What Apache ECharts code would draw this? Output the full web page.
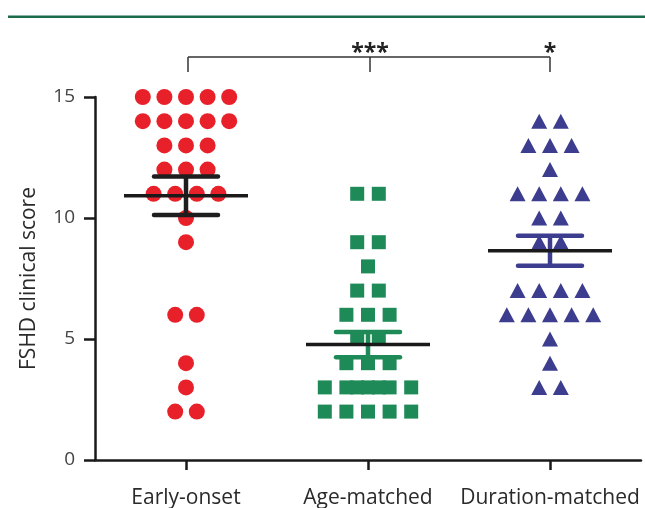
<!DOCTYPE html>
<html>
<head>
<meta charset="utf-8">
<script src="https://cdn.jsdelivr.net/npm/echarts@6/dist/echarts.min.js"></script>
<style>
html,body{margin:0;padding:0;background:#fff;}
#chart{width:645px;height:508px;}
</style>
</head>
<body>
<div id="chart"></div>
<script>
// ---- data ----
const categories = ['Early-onset', 'Age-matched', 'Duration-matched'];
const earlyOnset = [15,15,15,15,15, 14,14,14,14,14, 13,13,13, 12,12,12, 11,11,11,11, 10, 9, 6,6, 4, 3, 2,2];
const ageMatched = [11,11, 9,9, 8, 7,7, 6,6,6, 5,5, 4,4,4, 3,3,3,3,3,3,3, 2,2,2,2,2];
const durationMatched = [14,14, 13,13,13, 12, 11,11,11,11, 10,10, 9,9, 7,7,7,7, 6,6,6,6,6, 5, 4, 3,3];
const means = [10.92, 4.77, 8.65];
const sems = [0.80, 0.52, 0.62];
const yTicks = [0, 5, 10, 15];
const significance = ['***', '*'];

// ---- styling ----
const colors = ['#E8202A', '#1E8A57', '#3D3D8F'];
const capColors = ['#1e1e1e', '#1E8A57', '#3D3D8F'];
const symbols = ['circle', 'rect', 'triangle'];
const symbolSizes = [16, 14, [16, 15]];
const SPACING = 21.6;
const FONT = '"Open Sans", "Noto Sans", sans-serif';

// beeswarm-like layout: points with same value are spread horizontally
function layout(values, catIndex) {
  const rows = {};
  values.forEach(v => { (rows[v] = rows[v] || []).push(v); });
  const out = [];
  Object.keys(rows).forEach(k => {
    const n = rows[k].length;
    const std = Math.min(n, 5);
    const offs = [];
    for (let i = 0; i < std; i++) offs.push((i - (std - 1) / 2) * SPACING);
    const extra = n - std;
    for (let j = 0; j < extra; j++) {
      const side = j % 2 === 0 ? -1 : 1;
      const step = Math.floor(j / 2);
      offs.push(side * (SPACING / 2 + step * SPACING));
    }
    offs.forEach(o => out.push({ value: [catIndex, Number(k)], symbolOffset: [o, 0] }));
  });
  return out;
}

const groups = [earlyOnset, ageMatched, durationMatched];

const chart = echarts.init(document.getElementById('chart'), null, { renderer: 'canvas' });

const scatterSeries = groups.map((g, i) => ({
  type: 'scatter',
  name: categories[i],
  data: layout(g, i),
  symbol: symbols[i],
  symbolSize: symbolSizes[i],
  itemStyle: { color: colors[i], opacity: 1 },
  z: 2,
  silent: true,
  animation: false
}));

const meanSeries = {
  type: 'custom',
  z: 5,
  silent: true,
  animation: false,
  clip: false,
  data: means.map((m, i) => [i, m, sems[i]]),
  encode: { x: 0, y: 1 },
  renderItem: function (params, api) {
    const idx = api.value(0), m = api.value(1), s = api.value(2);
    const c = api.coord([idx, m]);
    const t = api.coord([idx, m + s]);
    const b = api.coord([idx, m - s]);
    const cap = capColors[idx];
    const capW = 32, meanW = 62;
    return {
      type: 'group',
      children: [
        { type: 'line', shape: { x1: c[0], y1: t[1], x2: c[0], y2: b[1] }, style: { stroke: cap, lineWidth: 4.5 } },
        { type: 'line', shape: { x1: c[0] - capW, y1: t[1], x2: c[0] + capW, y2: t[1] }, style: { stroke: cap, lineWidth: 4.5, lineCap: 'round' } },
        { type: 'line', shape: { x1: c[0] - capW, y1: b[1], x2: c[0] + capW, y2: b[1] }, style: { stroke: cap, lineWidth: 4.5, lineCap: 'round' } },
        { type: 'line', shape: { x1: c[0] - meanW, y1: c[1], x2: c[0] + meanW, y2: c[1] }, style: { stroke: '#1a1a1a', lineWidth: 3.5 } }
      ]
    };
  }
};

const bracketSeries = {
  type: 'custom',
  z: 6,
  silent: true,
  animation: false,
  clip: false,
  data: [[0, 15]],
  encode: { x: 0, y: 1 },
  renderItem: function (params, api) {
    const p0 = api.coord([0, 15]);
    const p1 = api.coord([1, 15]);
    const p2 = api.coord([2, 15]);
    const yb = p0[1] - 40;
    const yt = p0[1] - 25;
    const st = { stroke: '#333', lineWidth: 1.5 };
    return {
      type: 'group',
      children: [
        { type: 'line', shape: { x1: p0[0] + 2, y1: yb, x2: p2[0], y2: yb }, style: st },
        { type: 'line', shape: { x1: p0[0] + 2, y1: yb, x2: p0[0] + 2, y2: yt }, style: st },
        { type: 'line', shape: { x1: p1[0] + 2, y1: yb, x2: p1[0] + 2, y2: yt }, style: st },
        { type: 'line', shape: { x1: p2[0], y1: yb, x2: p2[0], y2: yt }, style: st },
        { type: 'text', style: { x: p1[0] + 2, y: yb - 4, text: significance[0], fill: '#222', font: 'bold 23px ' + FONT, align: 'center', verticalAlign: 'middle' } },
        { type: 'text', style: { x: p2[0], y: yb - 4, text: significance[1], fill: '#222', font: 'bold 23px ' + FONT, align: 'center', verticalAlign: 'middle' } }
      ]
    };
  }
};

chart.setOption({
  animation: false,
  backgroundColor: '#ffffff',
  textStyle: { fontFamily: FONT },
  grid: { left: 95, right: 4, top: 97, bottom: 48, containLabel: false, outerBoundsMode: 'none' },
  graphic: [
    { type: 'rect', shape: { x: 8, y: 15.5, width: 640, height: 2.5 }, style: { fill: '#1C6B4B' }, silent: true }
  ],
  xAxis: {
    type: 'category',
    data: categories,
    boundaryGap: true,
    axisLine: { show: true, lineStyle: { color: '#1a1a1a', width: 2.5 } },
    axisTick: { show: true, alignWithLabel: true, length: 10, lineStyle: { color: '#1a1a1a', width: 2.5 } },
    axisLabel: { color: '#2a2a2a', fontSize: 21, margin: 28, interval: 0, hideOverlap: false, fontFamily: FONT },
    splitLine: { show: false }
  },
  yAxis: {
    type: 'value',
    min: yTicks[0],
    max: yTicks[yTicks.length - 1],
    interval: 5,
    name: 'FSHD clinical score',
    nameLocation: 'middle',
    nameGap: 55,
    nameTextStyle: { color: '#2a2a2a', fontSize: 21, fontFamily: FONT },
    axisLine: { show: true, lineStyle: { color: '#1a1a1a', width: 2.5 } },
    axisTick: { show: true, length: 11, lineStyle: { color: '#1a1a1a', width: 2.5 } },
    axisLabel: { color: '#444', fontSize: 19, margin: 20, fontFamily: FONT },
    splitLine: { show: false }
  },
  series: [...scatterSeries, meanSeries, bracketSeries]
});
</script>
</body>
</html>
